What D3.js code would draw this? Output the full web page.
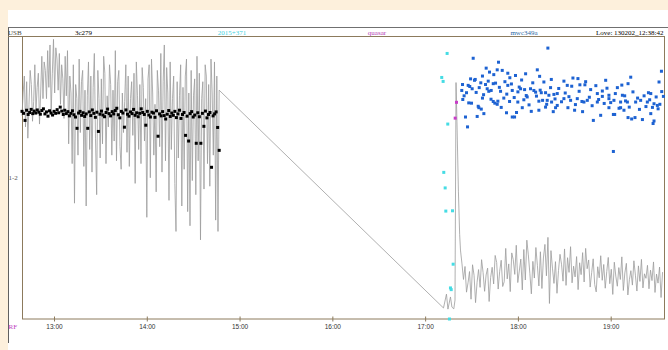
<!DOCTYPE html>
<html>
<head>
<meta charset="utf-8">
<script src="https://cdn.jsdelivr.net/npm/d3@7/dist/d3.min.js"></script>
<style>
	body { margin: 0; background: #fdf0dc; }
	svg { display: block; }
</style>
</head>
<body>
<svg id="chart"></svg>
<script>
// ---- data ----
const sources = [ '3c279', '2015+371', 'quasar', 'mwc349a' ] ;
const sidebandLabel = 'USB' ;
const baselineLabel = '1-2' ;
const receiverLabel = 'RF' ;
const stampLabel = 'Love: 130202_12:38:42' ;
const hourTicks = [ 13, 14, 15, 16, 17, 18, 19 ] ;
const timeDomain = [ 12.655, 19.58 ] ;   // hours
const ampDomain = [ 0, 100 ] ;

// 3c279 : regular integrations (trace and points sampled separately)
const start3c279 = 12.655 ;
const traceStep3c279 = 0.012574 ;
const pointStep3c279 = 0.016475 ;
const trace3c279 = [
	72, 80, 86, 68, 84, 64, 76, 88, 83, 70, 77, 90, 74, 82, 87, 69, 80, 93, 78, 91,
	88, 78, 95, 82, 97, 73, 87, 99, 80, 96, 92, 81, 94, 76, 90, 85, 71, 93, 79, 95,
	62, 86, 80, 55, 90, 41, 83, 78, 58, 92, 66, 84, 88, 54, 81, 40, 79, 91, 60, 86,
	52, 82, 94, 64, 44, 88, 78, 57, 85, 62, 93, 87, 55, 79, 68, 90, 83, 58, 81, 63,
	95, 56, 84, 88, 61, 53, 80, 66, 77, 90, 59, 86, 54, 78, 84, 65, 87, 48, 91, 79,
	60, 83, 55, 89, 82, 63, 78, 36, 85, 90, 50, 92, 80, 58, 76, 45, 88, 81, 61, 94,
	52, 84, 97, 56, 89, 80, 42, 91, 60, 78, 86, 48, 31, 84, 57, 79, 90, 40, 82, 53,
	86, 92, 38, 80, 33, 88, 49, 79, 85, 44, 93, 56, 87, 28, 78, 84, 46, 90, 86, 55,
	83, 47, 92, 80, 58, 91, 35, 86, 31, 81
] ;
const points3c279 = [
	73.5, 72.8, 70.3, 73.9, 72.4, 73.1, 74.2, 72.7, 73.6, 72.9,
	74.0, 73.2, 72.5, 73.8, 74.4, 72.6, 73.3, 71.8, 73.7, 72.9,
	72.2, 73.5, 72.8, 74.1, 73.0, 75.0, 73.6, 72.4, 73.9, 72.7,
	73.4, 71.9, 72.8, 73.7, 72.3, 71.5, 67.5, 72.9, 73.5, 72.1,
	73.0, 71.7, 72.6, 67.5, 73.3, 72.0, 74.0, 72.8, 71.4, 73.2,
	66.4, 72.5, 73.6, 72.2, 71.6, 73.1, 74.3, 72.7, 71.9, 73.4,
	72.6, 73.8, 74.6, 72.3, 71.2, 73.5, 72.9, 67.9, 74.0, 72.5,
	71.8, 73.3, 72.7, 74.2, 72.1, 73.0, 71.6, 72.8, 74.4, 73.1,
	72.4, 68.6, 73.5, 72.2, 71.5, 73.2, 72.9, 71.4, 73.7, 64.7,
	72.6, 71.9, 73.4, 72.0, 70.8, 72.5, 73.8, 71.7, 72.9, 72.1,
	73.5, 71.3, 72.6, 73.9, 71.0, 72.4, 73.1, 65.0, 71.8, 63.0,
	72.7, 73.4, 71.5, 72.2, 62.2, 73.0, 71.6, 62.2, 72.8, 68.2,
	73.6, 71.2, 72.4, 73.1, 53.7, 71.9, 72.6, 73.3, 67.8, 59.7
] ;

// 2015+371
const traceTime2015 = [ 17.198, 17.230, 17.246, 17.273, 17.289, 17.309 ] ;
const traceAmp2015 = [ 3.9, 8.8, 3.5, 7.8, 4.2, 3.6 ] ;
const points2015 = [
	[ 17.237, 94.0 ], [ 17.179, 85.5 ], [ 17.194, 84.1 ], [ 17.244, 69.0 ],
	[ 17.201, 51.9 ], [ 17.216, 46.4 ], [ 17.223, 38.2 ], [ 17.295, 38.3 ],
	[ 17.302, 19.4 ], [ 17.273, 11.0 ], [ 17.281, 10.4 ], [ 17.262, 0.0 ]
] ;

// quasar
const traceTimeQuasar = [ 17.322, 17.333, 17.343, 17.359, 17.372 ] ;
const traceAmpQuasar = [ 6.7, 83.7, 70.0, 45.0, 30.0 ] ;
const pointsQuasar = [ [ 17.338, 76.7 ], [ 17.324, 71.1 ] ] ;

// mwc349a : regular integrations
const startMwc = 17.381 ;
const stepMwc = 0.016254 ;
const traceMwc = [
	24.4, 19.5, 14.0, 18.6, 9.5, 12.8, 16.8, 7.0, 19.2, 15.5, 5.8, 13.0, 17.5, 11.2, 21.0, 16.4, 9.8, 15.6, 18.0, 6.2,
	14.7, 18.3, 12.4, 22.5, 20.0, 10.6, 16.9, 20.8, 11.5, 13.2, 25.0, 14.2, 19.5, 9.7, 23.4, 21.0, 15.8, 26.1, 12.9, 17.0,
	21.2, 10.3, 24.6, 13.8, 27.9, 22.7, 16.2, 8.9, 20.4, 14.5, 25.3, 19.0, 11.7, 23.8, 10.8, 21.6, 26.4, 15.3, 28.9, 5.5,
	24.2, 18.0, 12.6, 20.3, 9.1, 17.2, 22.9, 19.4, 13.4, 24.8, 11.9, 21.7, 16.5, 25.6, 12.8, 18.7, 14.9, 22.1, 10.4, 19.9,
	15.7, 23.5, 13.1, 25.0, 17.8, 20.9, 11.3, 16.4, 21.3, 12.2, 9.6, 18.5, 14.6, 22.4, 13.7, 19.3, 10.9, 16.8, 21.8, 12.5,
	17.6, 8.7, 20.1, 15.2, 11.6, 18.2, 14.0, 22.0, 10.1, 16.3, 19.7, 8.5, 13.9, 17.1, 12.0, 20.6, 15.5, 9.9, 18.8, 13.3,
	21.1, 11.0, 16.0, 14.4, 19.0, 10.7, 17.3, 13.6, 20.2, 9.4, 15.9, 12.7, 18.4, 7.6, 16.6
] ;
const pointsMwc = [
	[ 17.518, 92.3 ], [ 18.323, 95.9 ], [ 17.791, 90.9 ], [ 17.658, 88.8 ], [ 17.694, 87.4 ],
	[ 17.777, 88.2 ], [ 17.831, 88.0 ], [ 17.618, 86.0 ], [ 17.540, 84.8 ], [ 17.532, 84.5 ],
	[ 17.403, 83.0 ], [ 17.395, 80.9 ], [ 17.446, 80.1 ], [ 17.464, 82.7 ], [ 17.481, 82.3 ],
	[ 17.507, 81.5 ], [ 17.583, 81.9 ], [ 17.651, 83.0 ], [ 17.669, 81.5 ], [ 17.686, 80.6 ],
	[ 17.712, 80.9 ], [ 17.734, 83.3 ], [ 17.759, 83.5 ], [ 17.813, 80.6 ], [ 17.891, 87.0 ],
	[ 17.913, 85.4 ], [ 17.974, 86.2 ], [ 17.891, 82.7 ], [ 17.939, 80.9 ], [ 18.014, 82.1 ],
	[ 18.029, 81.5 ], [ 18.083, 86.8 ], [ 18.072, 81.2 ], [ 18.136, 81.5 ], [ 18.172, 80.9 ],
	[ 18.209, 88.2 ], [ 18.234, 85.9 ], [ 18.191, 80.3 ], [ 18.252, 80.1 ], [ 18.298, 80.1 ],
	[ 18.352, 81.9 ], [ 18.334, 79.2 ], [ 18.388, 79.5 ], [ 18.424, 79.8 ], [ 18.496, 84.2 ],
	[ 18.532, 82.7 ], [ 18.593, 85.3 ], [ 18.647, 85.1 ], [ 18.668, 82.9 ], [ 18.722, 82.9 ],
	[ 18.784, 81.2 ], [ 18.856, 79.8 ], [ 18.910, 80.7 ], [ 18.946, 84.5 ], [ 18.981, 79.2 ],
	[ 19.072, 81.9 ], [ 19.126, 79.2 ], [ 19.151, 79.0 ], [ 19.216, 85.6 ], [ 19.187, 83.3 ],
	[ 19.407, 80.1 ], [ 19.432, 79.8 ], [ 19.521, 83.9 ], [ 19.547, 87.7 ], [ 19.568, 78.8 ],
	[ 17.406, 77.7 ], [ 17.500, 76.4 ], [ 17.572, 75.3 ], [ 17.605, 74.3 ], [ 17.618, 78.2 ],
	[ 17.734, 77.0 ], [ 17.751, 76.4 ], [ 17.784, 77.1 ], [ 17.848, 78.2 ], [ 17.910, 77.0 ],
	[ 17.999, 76.8 ], [ 18.064, 77.6 ], [ 18.100, 78.6 ], [ 18.226, 77.1 ], [ 18.266, 77.4 ],
	[ 18.316, 77.4 ], [ 18.363, 76.8 ], [ 18.424, 75.6 ], [ 18.496, 78.0 ], [ 18.568, 77.4 ],
	[ 18.640, 78.0 ], [ 18.712, 76.8 ], [ 18.748, 77.4 ], [ 18.856, 76.8 ], [ 18.910, 78.8 ],
	[ 18.981, 78.0 ], [ 19.035, 77.4 ], [ 19.107, 76.8 ], [ 19.180, 76.8 ], [ 19.269, 76.8 ],
	[ 19.323, 77.4 ], [ 19.395, 76.8 ], [ 19.467, 76.2 ], [ 19.503, 75.6 ], [ 17.435, 71.5 ],
	[ 17.457, 68.0 ], [ 17.561, 71.7 ], [ 17.579, 74.8 ], [ 17.633, 72.7 ], [ 17.777, 76.0 ],
	[ 17.877, 73.0 ], [ 17.939, 71.5 ], [ 17.964, 71.5 ], [ 17.985, 73.1 ], [ 18.047, 74.8 ],
	[ 18.144, 73.5 ], [ 18.226, 73.9 ], [ 18.298, 75.0 ], [ 18.381, 73.4 ], [ 18.406, 74.8 ],
	[ 18.539, 74.8 ], [ 18.611, 73.9 ], [ 18.697, 73.4 ], [ 18.813, 70.3 ], [ 18.892, 72.1 ],
	[ 18.981, 74.8 ], [ 19.029, 72.4 ], [ 19.043, 72.4 ], [ 19.107, 74.8 ], [ 19.143, 73.9 ],
	[ 19.187, 71.3 ], [ 19.226, 70.8 ], [ 19.262, 71.3 ], [ 19.342, 70.6 ], [ 19.432, 72.7 ],
	[ 19.457, 69.2 ], [ 19.467, 70.1 ], [ 19.511, 74.4 ], [ 19.029, 59.3 ],
	[ 17.420, 79.0 ], [ 17.470, 76.5 ], [ 17.490, 85.0 ], [ 17.550, 80.2 ], [ 17.600, 83.6 ],
	[ 17.630, 79.4 ], [ 17.680, 84.2 ], [ 17.710, 77.8 ], [ 17.740, 86.5 ], [ 17.800, 82.0 ],
	[ 17.820, 74.9 ], [ 17.860, 84.0 ], [ 17.880, 79.6 ], [ 17.930, 83.2 ], [ 17.960, 78.4 ],
	[ 18.000, 80.4 ], [ 18.040, 84.6 ], [ 18.090, 79.1 ], [ 18.120, 75.8 ], [ 18.160, 83.6 ],
	[ 18.200, 78.9 ], [ 18.240, 81.0 ], [ 18.280, 83.9 ], [ 18.310, 76.0 ], [ 18.360, 84.8 ],
	[ 18.400, 77.9 ], [ 18.440, 81.6 ], [ 18.470, 76.9 ], [ 18.510, 80.0 ], [ 18.550, 78.7 ],
	[ 18.580, 82.4 ], [ 18.620, 75.9 ], [ 18.660, 80.6 ], [ 18.690, 77.0 ], [ 18.730, 84.0 ],
	[ 18.770, 78.5 ], [ 18.800, 75.5 ], [ 18.840, 82.6 ], [ 18.870, 77.7 ], [ 18.930, 76.3 ],
	[ 18.960, 81.7 ], [ 19.000, 76.6 ], [ 19.050, 79.8 ], [ 19.090, 74.6 ], [ 19.120, 82.8 ],
	[ 19.160, 77.2 ], [ 19.200, 75.0 ], [ 19.240, 80.4 ], [ 19.290, 78.2 ], [ 19.310, 74.2 ],
	[ 19.360, 79.0 ], [ 19.380, 75.2 ], [ 19.420, 77.6 ], [ 19.450, 74.9 ], [ 19.490, 78.6 ],
	[ 19.530, 76.0 ], [ 19.550, 80.5 ]
] ;

// ---- layout ----
const geom = {
	width: 668,
	height: 350,
	panel: { left: 8, top: 10 },
	headerTop: 27.5,
	headerBottom: 36.5,
	plot: { left: 22, right: 664.5, top: 36.5, bottom: 319 }
} ;
const headerX = [ 83.5, 232, 377, 524 ] ;
const textColour = { '3c279': '#000000', '2015+371': '#3fd2e0', 'quasar': '#b43cb4', 'mwc349a': '#2c6aa6' } ;
const pointColour = { '3c279': '#000000', '2015+371': '#45dce4', 'quasar': '#c83cc8', 'mwc349a': '#1d62d2' } ;
const frameColour = '#8c7a5c' ;

let svg = d3.select( '#chart' )
	.attr( 'width', geom.width )
	.attr( 'height', geom.height )
	.style( 'font-family', '"Liberation Serif", serif' ) ;

let x = d3.scaleLinear()
	.domain( timeDomain )
	.range( [ geom.plot.left, geom.plot.right ] ) ;
let y = d3.scaleLinear()
	.domain( ampDomain )
	.range( [ geom.plot.bottom, geom.plot.top ] ) ;

// white panel
svg.append( 'rect' )
	.attr( 'x', geom.panel.left )
	.attr( 'y', geom.panel.top )
	.attr( 'width', geom.width - geom.panel.left )
	.attr( 'height', geom.height - geom.panel.top )
	.attr( 'fill', '#ffffff' ) ;

svg.append( 'line' )
	.attr( 'x1', geom.panel.left ).attr( 'x2', geom.width )
	.attr( 'y1', geom.headerTop ).attr( 'y2', geom.headerTop )
	.attr( 'stroke', '#707070' ) ;
svg.append( 'line' )
	.attr( 'x1', geom.panel.left + 0.5 ).attr( 'x2', geom.panel.left + 0.5 )
	.attr( 'y1', geom.headerTop ).attr( 'y2', 343 )
	.attr( 'stroke', '#606060' ) ;
svg.append( 'line' )
	.attr( 'x1', geom.panel.left ).attr( 'x2', geom.plot.right )
	.attr( 'y1', geom.headerBottom ).attr( 'y2', geom.headerBottom )
	.attr( 'stroke', frameColour ) ;

// plot frame
svg.append( 'rect' )
	.attr( 'x', geom.plot.left + 0.5 )
	.attr( 'y', geom.plot.top )
	.attr( 'width', geom.plot.right - geom.plot.left - 0.5 )
	.attr( 'height', geom.plot.bottom - geom.plot.top )
	.attr( 'fill', 'none' )
	.attr( 'stroke', frameColour ) ;

// header texts
svg.append( 'text' )
	.attr( 'x', geom.panel.left ).attr( 'y', 34.5 )
	.attr( 'font-size', '7px' ).attr( 'fill', '#4a4a40' )
	.text( sidebandLabel ) ;
svg.selectAll( 'text.source' )
	.data( sources )
	.enter()
	.append( 'text' )
	.attr( 'class', 'source' )
	.attr( 'x', (d, i) => headerX[i] )
	.attr( 'y', 34.5 )
	.attr( 'text-anchor', 'middle' )
	.attr( 'font-size', '7px' )
	.attr( 'fill', d => textColour[d] )
	.text( d => d ) ;
svg.append( 'text' )
	.attr( 'x', geom.plot.right - 1 ).attr( 'y', 34.5 )
	.attr( 'text-anchor', 'end' )
	.attr( 'font-size', '7px' ).attr( 'fill', '#000' )
	.text( stampLabel ) ;

svg.append( 'text' )
	.attr( 'x', geom.panel.left + 0.5 ).attr( 'y', y( 50 ) + 2.5 )
	.attr( 'font-size', '7px' ).attr( 'fill', '#555' )
	.text( baselineLabel ) ;
svg.append( 'text' )
	.attr( 'x', geom.panel.left + 0.5 ).attr( 'y', 328.5 )
	.attr( 'font-size', '7px' ).attr( 'fill', '#c040c0' )
	.text( receiverLabel ) ;

// time axis
let axis = svg.append( 'g' )
	.attr( 'transform', 'translate(0 ' + geom.plot.bottom + ')' )
	.call( d3.axisBottom( x )
		.tickValues( hourTicks )
		.tickFormat( h => h + ':00' )
		.tickSize( 2.5 )
		.tickPadding( 2.5 ) ) ;
axis.select( '.domain' ).remove() ;
axis.selectAll( '.tick line' )
	.attr( 'y1', -2.5 )
	.attr( 'stroke', frameColour ) ;
axis.selectAll( '.tick text' )
	.attr( 'font-family', '"Liberation Sans", sans-serif' )
	.attr( 'font-size', '6.5px' )
	.attr( 'fill', '#333' ) ;

// one continuous amplitude trace through all scans
let trace = [] ;
trace3c279.forEach( (a, i) => trace.push( [ start3c279 + i * traceStep3c279, a ] ) ) ;
traceTime2015.forEach( (t, i) => trace.push( [ t, traceAmp2015[i] ] ) ) ;
traceTimeQuasar.forEach( (t, i) => trace.push( [ t, traceAmpQuasar[i] ] ) ) ;
traceMwc.forEach( (a, i) => trace.push( [ startMwc + i * stepMwc, a ] ) ) ;

svg.append( 'path' )
	.datum( trace )
	.attr( 'd', d3.line().x( d => x(d[0]) ).y( d => y(d[1]) ) )
	.attr( 'fill', 'none' )
	.attr( 'stroke', '#9c9c9c' )
	.attr( 'stroke-width', 0.8 ) ;

// scatter points per source
let pts = [] ;
points3c279.forEach( (a, i) => pts.push( { src: '3c279', t: start3c279 + i * pointStep3c279, a: a } ) ) ;
points2015.forEach( d => pts.push( { src: '2015+371', t: d[0], a: d[1] } ) ) ;
pointsQuasar.forEach( d => pts.push( { src: 'quasar', t: d[0], a: d[1] } ) ) ;
pointsMwc.forEach( d => pts.push( { src: 'mwc349a', t: d[0], a: d[1] } ) ) ;

svg.selectAll( 'rect.pt' )
	.data( pts )
	.enter()
	.append( 'rect' )
	.attr( 'class', 'pt' )
	.attr( 'x', d => x(d.t) - 1.5 )
	.attr( 'y', d => y(d.a) - 1.5 )
	.attr( 'width', 3 )
	.attr( 'height', 3 )
	.attr( 'fill', d => pointColour[d.src] ) ;
</script>
</body>
</html>
